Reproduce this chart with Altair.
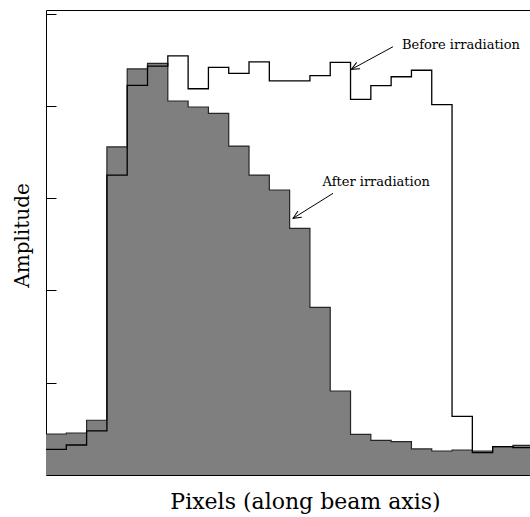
import altair as alt
import pandas as pd

# Per-bin amplitudes along the beam axis (bin width = 1 pixel unit)
after_irr = [0.444, 0.455, 0.593, 3.554, 4.40, 4.46, 4.052, 3.987, 3.918, 3.564,
             3.25, 3.088, 2.673, 1.817, 0.91, 0.441, 0.376, 0.361, 0.282, 0.26,
             0.271, 0.26, 0.307, 0.322]
before_irr = [0.278, 0.325, 0.477, 3.25, 4.222, 4.43, 4.54, 4.185, 4.417, 4.352,
              4.475, 4.27, 4.27, 4.326, 4.47, 4.07, 4.218, 4.315, 4.385, 4.012,
              0.636, 0.242, 0.307, 0.296]
y_ticks = [1, 2, 3, 4, 5]

# Annotation labels and arrows (data coordinates)
label_text = ["Before irradiation", "After irradiation"]
label_x = [17.53, 13.62]
label_y = [4.619, 3.134]
arrow_x0 = [17.09, 14.14]
arrow_y0 = [4.640, 3.052]
arrow_x1 = [15.04, 12.17]
arrow_y1 = [4.395, 2.781]
arrow_angle = [151.5, 148.0]

W, H = 484, 465
X_DOMAIN = [0, 23.84]
Y_DOMAIN = [0, 5.038]
FONT = "DejaVu Serif"


def steps(vals):
    # step-after needs a closing point at the right edge of the last bin
    xs = list(range(len(vals))) + [len(vals)]
    ys = list(vals) + [vals[-1]]
    return pd.DataFrame({"x": xs, "y": ys})


after_df = steps(after_irr)
before_df = steps(before_irr)
labels_df = pd.DataFrame({"t": label_text, "x": label_x, "y": label_y})
arrows_df = pd.DataFrame({"x0": arrow_x0, "y0": arrow_y0, "x1": arrow_x1,
                          "y1": arrow_y1, "a": arrow_angle})

xs = alt.Scale(domain=X_DOMAIN, nice=False, zero=False)
ys = alt.Scale(domain=Y_DOMAIN, nice=False, zero=False)

bottom_axis = alt.Axis(title="Pixels (along beam axis)", labels=False, ticks=False,
                       grid=False, domainColor="black", domainWidth=1,
                       titleFont=FONT, titleFontSize=22, titleFontWeight="normal",
                       titleColor="black", titleX=W / 2 + 17, titleY=33,
                       titleAlign="center", titleBaseline="alphabetic")
left_axis = alt.Axis(title="Amplitude", labels=False, ticks=False, grid=False,
                     domainColor="black", domainWidth=1,
                     titleFont=FONT, titleFontSize=20, titleFontWeight="normal",
                     titleColor="black", titleAngle=270, titleX=-18, titleY=225,
                     titleAlign="center", titleBaseline="alphabetic")
top_axis = alt.Axis(orient="top", title=None, labels=False, ticks=False, grid=False,
                    domainColor="black", domainWidth=1)
# inward ticks: a right-oriented axis pulled over to the left edge
tick_axis = alt.Axis(orient="right", offset=-W, title=None, labels=False,
                     domain=False, grid=False, ticks=True, tickSize=10,
                     tickColor="black", tickWidth=1, values=y_ticks)

after_area = alt.Chart(after_df).mark_area(
    interpolate="step-after", color="#7f7f7f", clip=True
).encode(
    x=alt.X("x:Q", scale=xs, axis=bottom_axis),
    y=alt.Y("y:Q", scale=ys, axis=left_axis),
)

after_line = alt.Chart(after_df).mark_line(
    interpolate="step-after", color="#262626", strokeWidth=1.2, clip=True
).encode(
    x=alt.X("x:Q", scale=xs, axis=top_axis),
    y=alt.Y("y:Q", scale=ys, axis=tick_axis),
)

before_line = alt.Chart(before_df).mark_line(
    interpolate="step-after", color="black", strokeWidth=1.3, clip=True
).encode(
    x=alt.X("x:Q", scale=xs, axis=None),
    y=alt.Y("y:Q", scale=ys, axis=None),
)

labels = alt.Chart(labels_df).mark_text(
    align="left", baseline="alphabetic", font=FONT, fontSize=13, color="black"
).encode(
    x=alt.X("x:Q", scale=xs, axis=None),
    y=alt.Y("y:Q", scale=ys, axis=None),
    text="t:N",
)

arrow_shafts = alt.Chart(arrows_df).mark_rule(color="black", strokeWidth=1).encode(
    x=alt.X("x0:Q", scale=xs, axis=None),
    y=alt.Y("y0:Q", scale=ys, axis=None),
    x2="x1:Q",
    y2="y1:Q",
)

arrow_heads = alt.Chart(arrows_df).mark_point(
    shape="M -1 -0.45 L 0 0 L -1 0.45", filled=False, color="black",
    strokeWidth=1, size=256, opacity=1
).encode(
    x=alt.X("x1:Q", scale=xs, axis=None),
    y=alt.Y("y1:Q", scale=ys, axis=None),
    angle=alt.Angle("a:Q", scale=None),
)

chart = alt.layer(
    after_area, after_line, before_line, labels, arrow_shafts, arrow_heads
).resolve_axis(
    x="independent", y="independent"
).properties(
    width=W, height=H,
    padding={"left": 46, "top": 10, "right": 0, "bottom": 42},
    autosize=alt.AutoSizeParams(type="none"),
    background="white",
).configure_view(stroke=None)

chart.save("out.html", embed_options={"renderer": "svg", "actions": False})
